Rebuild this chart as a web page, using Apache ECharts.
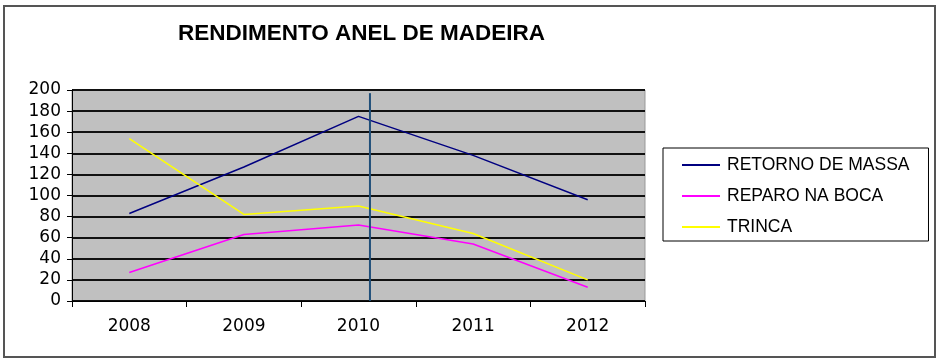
<!DOCTYPE html>
<html><head><meta charset="utf-8">
<script src="https://cdn.jsdelivr.net/npm/echarts@6/dist/echarts.min.js"></script>
<style>html,body{margin:0;padding:0;background:#fff}#c{width:939px;height:361px}</style>
</head><body><div id="c"></div>
<script>
const categories = ['2008','2009','2010','2011','2012'];
const retornoDeMassa = [83, 127, 175, 138, 96];
const reparoNaBoca = [27, 63, 72, 54, 13];
const trinca = [154, 82, 90, 64, 20];
const yTicks = {min: 0, max: 200, interval: 20};
const markerPosition = 2.6; // vertical marker line, in category units
const markerTop = 197;

const chart = echarts.init(document.getElementById('c'), null, {renderer: 'canvas'});
const font = '"DejaVu Sans", sans-serif';
const arial = '"Liberation Sans", Arial, sans-serif';
chart.setOption({
  animation: false,
  backgroundColor: '#fff',
  title: {
    text: 'RENDIMENTO ANEL DE MADEIRA',
    left: 173, top: 17,
    textStyle: {fontFamily: arial, fontSize: 22.5, fontWeight: 'bold', color: '#000'}
  },
  graphic: [{
    type: 'rect', z: -1,
    shape: {x: 4, y: 6, width: 931, height: 351},
    style: {fill: 'none', stroke: '#555', lineWidth: 2}
  }],
  legend: {
    orient: 'vertical',
    left: 663, top: 148,
    padding: [8, 19, 5, 19],
    itemGap: 13,
    itemWidth: 38, itemHeight: 2,
    icon: 'rect',
    borderColor: '#000', borderWidth: 1,
    textStyle: {fontFamily: arial, fontSize: 17.5, color: '#000', padding: [0, 0, 0, 2]},
    data: ['RETORNO DE MASSA', 'REPARO NA BOCA', 'TRINCA']
  },
  grid: {
    left: 72, right: 294, top: 90, bottom: 60,
    show: true, backgroundColor: '#C0C0C0', borderColor: '#999', borderWidth: 1
  },
  xAxis: [{
    type: 'category', data: categories, boundaryGap: true,
    axisLine: {lineStyle: {color: '#000', width: 1}},
    axisTick: {show: true, length: 6, lineStyle: {color: '#000'}},
    axisLabel: {fontFamily: font, fontSize: 17, color: '#000', margin: 17},
    splitLine: {show: false}
  }, {
    type: 'value', min: 0, max: 5, show: false
  }],
  yAxis: {
    type: 'value', min: yTicks.min, max: yTicks.max, interval: yTicks.interval,
    axisLine: {show: true, lineStyle: {color: '#000', width: 1}},
    axisTick: {show: true, length: 5, lineStyle: {color: '#000'}},
    axisLabel: {fontFamily: font, fontSize: 17, color: '#000', margin: 11},
    splitLine: {show: true, lineStyle: {color: '#111', width: 2}}
  },
  series: [
    {name: 'RETORNO DE MASSA', type: 'line', data: retornoDeMassa, symbol: 'none',
     lineStyle: {color: '#000080', width: 1.5}, itemStyle: {color: '#000080'}},
    {name: 'REPARO NA BOCA', type: 'line', data: reparoNaBoca, symbol: 'none',
     lineStyle: {color: '#FF00FF', width: 1.5}, itemStyle: {color: '#FF00FF'}},
    {name: 'TRINCA', type: 'line', data: trinca, symbol: 'none',
     lineStyle: {color: '#FFFF00', width: 1.5}, itemStyle: {color: '#FFFF00'}},
    {name: 'marker', type: 'line', xAxisIndex: 1, symbol: 'none',
     data: [[markerPosition, 0], [markerPosition, markerTop]],
     lineStyle: {color: '#1F4E79', width: 2}, z: 5}
  ]
});
</script></body></html>
